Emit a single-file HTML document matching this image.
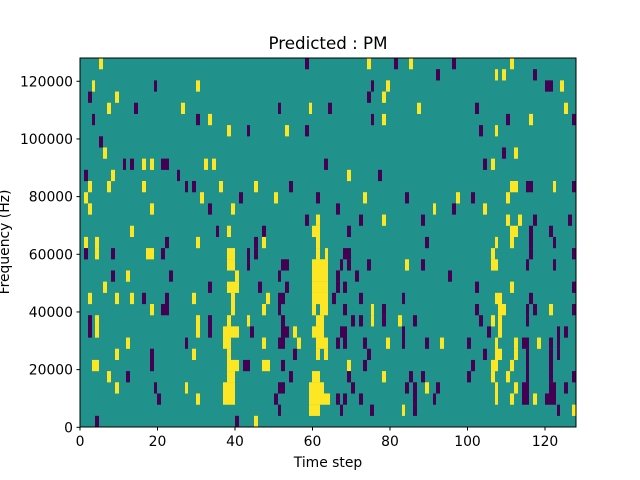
<!DOCTYPE html>
<html><head><meta charset="utf-8"><style>
html,body{margin:0;padding:0;background:#fff;}
svg{display:block;font-family:"DejaVu Sans","Liberation Sans",sans-serif;}
</style></head><body>
<svg id="s" width="640" height="480" xmlns="http://www.w3.org/2000/svg">
<rect x="80" y="58" width="496" height="369" fill="#21918c"/>
<g id="cells"></g>
<rect x="80" y="58" width="496" height="369" fill="none" stroke="#000" stroke-width="1"/>
<g id="ax" font-size="13.9" fill="#000"></g>
<text x="328" y="49" font-size="16.7" text-anchor="middle">Predicted : PM</text>
<text x="328" y="467" font-size="13.9" text-anchor="middle">Time step</text>
<text transform="translate(9,242) rotate(-90)" font-size="13.9" text-anchor="middle">Frequency (Hz)</text>
</svg>
<script>
var Y="#fde725",P="#440154";
var rows={
0:"y99-103 p305-309 y367-371 p394-398 y409-413 p452-456 y510-514",
1:"p436-440 y495-498 y502-506 p533-537",
2:"y92-95 p154-157 y196-200 p371-374 y386-390 p545-553 y560-564",
3:"p88-92 y115-119 p367-371 y382-386",
4:"y107-111 p134-138 y181-185 p278-281 y309-312 p328-332 y417-421 p475-479 y564-568",
5:"p92-95 p196-200 y208-212 p371-374 y382-386 p506-510 y529-533 p572-576",
6:"y227-231 p247-250 y285-289 p305-309 p479-483 y495-498",
7:"p99-103",
8:"y103-107 p502-506 y514-518",
9:"p123-126 p130-134 y142-146 y150-154 p161-169 y204-208 y212-216 p324-328 p483-487 y491-495",
10:"p84-88 y111-115 p177-180 y347-351 p378-382",
11:"y88-92 y107-111 y142-146 p185-188 p192-196 y219-223 y254-258 p289-293 y510-518 p526-533 y553-556 p572-576",
12:"y84-88 y200-204 p239-243 y274-278 p316-320 y363-367 p405-409 y456-460 p471-475 y506-510",
13:"y88-92 y150-154 p208-212 y231-235 p336-340 y433-436 p452-456 y483-487",
14:"p305-309 y316-320 p359-363 y382-386 p421-425 y506-510 y518-522 p533-537 p568-572",
15:"y130-134 p216-219 y227-231 p262-266 y312-320 p347-351 y510-518 p529-533 p549-553",
16:"y84-88 y95-99 p165-169 y196-200 p254-258 y262-266 y316-320 p425-429 y495-498 y510-514 p529-533 p553-556",
17:"p84-88 y95-99 p111-115 y146-154 p161-165 y227-235 p247-250 p254-258 y316-320 y325-328 p343-351 y491-495 p529-533 p572-576",
18:"y227-235 p247-250 p281-289 y312-328 p340-343 p347-351 p367-371 y405-409 p421-425 y491-498 p526-529 p553-556",
19:"p111-115 y126-130 p169-173 y235-239 p278-281 y312-328 p336-340 p355-359 p448-452",
20:"y103-107 p208-212 y227-239 p258-262 p285-289 y312-328 p336-340 p343-347 p475-479 y510-514 p572-576",
21:"y88-92 y115-119 y130-134 p142-146 p165-169 y192-196 y231-235 y266-270 p278-285 y312-328 p332-336 p359-363 p402-405 y495-502 p529-533",
22:"y150-154 p161-169 y231-235 y262-266 p278-281 y312-316 y320-328 p343-347 y371-374 p382-386 p475-479 y498-506 p526-529 p533-537 y549-553 p572-576",
23:"p88-92 y95-99 y196-200 p208-212 y227-231 y247-250 p281-285 y316-324 p351-355 p359-363 y371-374 p382-386 y398-402 p413-417 p479-483 y491-495 y498-502 p526-529",
24:"p88-92 y95-99 y196-200 p208-212 y223-239 p250-254 p281-289 y293-297 y312-324 p340-347 p402-405 p487-491 y498-502 p557-560 p564-568",
25:"y126-130 p185-188 y223-231 y262-266 p278-285 y297-301 y316-328 p336-340 p343-347 p363-367 y386-390 p402-405 p425-429 y440-444 p467-471 y495-498 y514-518 p522-529 y537-541 p549-553 p557-560",
26:"y115-119 p150-154 y192-196 y227-231 p293-297 y316-320 y324-328 p367-371 p483-487 y495-502 y514-518 p526-529 p549-553 p557-560",
27:"y92-99 p150-154 y227-239 p243-250 y262-270 p281-285 y347-351 p363-367 p471-475 y491-498 y510-514 p526-529 p549-553",
28:"y107-111 p126-130 y227-235 p289-293 y312-320 p347-351 y382-386 p409-413 p421-425 p467-471 y491-495 y506-510 p526-529 p549-553 p572-576",
29:"y115-119 p154-157 y185-188 y223-235 p278-285 y309-324 p351-355 p405-409 p413-417 y425-429 p436-440 y495-498 y514-518 p522-529 p549-556 p564-568",
30:"p157-161 y196-200 y223-235 p274-278 y309-330 p336-340 p343-347 p359-363 p413-417 p433-436 y495-498 y510-514 p522-529 y533-537 p545-556",
31:"p278-281 y309-320 p340-343 p370-374 y402-405 p413-417 p557-560 y572-576",
32:"p95-99 p235-239 y254-258"
};
var g=document.getElementById('cells'),ns="http://www.w3.org/2000/svg",h=369/33;
for(var r in rows){rows[r].split(' ').forEach(function(t){var c=t[0]=='y'?Y:P;var a=t.slice(1).split('-');
var e=document.createElementNS(ns,'rect');e.setAttribute('x',a[0]);e.setAttribute('width',a[1]-a[0]);
e.setAttribute('y',58+h*r);e.setAttribute('height',h+0.1);e.setAttribute('fill',c);g.appendChild(e);});}
var ax=document.getElementById('ax'),s='';
for(var v=0;v<=120;v+=20){var x=80+v*3.875;s+='<line x1="'+x+'" y1="427" x2="'+x+'" y2="430.5" stroke="#000"/><text x="'+x+'" y="446" text-anchor="middle">'+v+'</text>';}
for(var f=0;f<=120000;f+=20000){var y=427.3-f/20000*57.67;s+='<line x1="76.5" y1="'+y+'" x2="80" y2="'+y+'" stroke="#000"/><text x="73" y="'+(y+5)+'" text-anchor="end">'+f+'</text>';}
ax.innerHTML=s;
</script>
</body></html>
